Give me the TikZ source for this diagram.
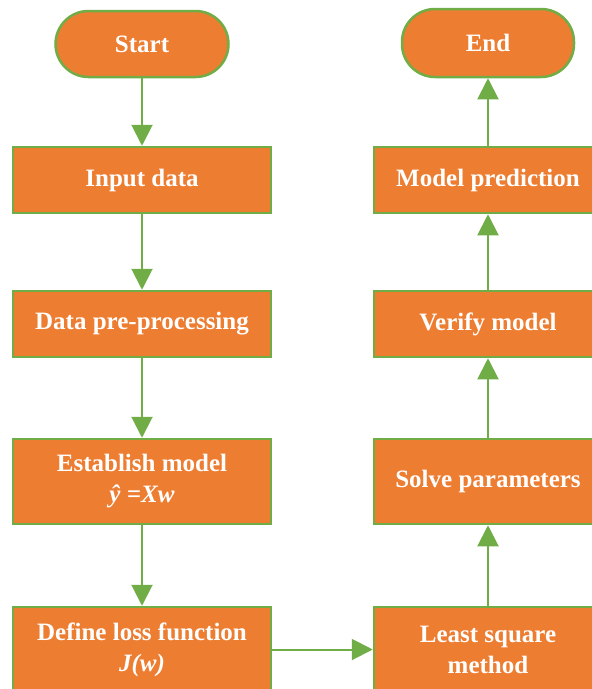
\documentclass[tikz,border=0pt]{standalone}
\usepackage{fontspec}
\setmainfont{Liberation Serif}
\usetikzlibrary{arrows.meta}
\definecolor{boxfill}{HTML}{ED7D31}
\definecolor{boxline}{HTML}{70AD47}
\tikzset{
  stepbox/.style={draw=boxline, line width=2.5pt, fill=boxfill, text=white,
    inner sep=0pt, align=center, font=\fontsize{25}{31}\selectfont\bfseries},
  termbox/.style={stepbox, rounded corners=33pt},
  flow/.style={draw=boxline, line width=2pt,
    -{Triangle[length=21pt,width=21pt]}}
}
\begin{document}
\begin{tikzpicture}[x=1pt,y=-1pt]
  \useasboundingbox (0,0) rectangle (592,689);
  \clip (0,0) rectangle (592,689);
  % left column
  \node[termbox, minimum width=173pt, minimum height=66pt] (start) at (142,44) {Start};
  \node[stepbox, minimum width=258pt, minimum height=66pt] (input) at (142,180) {Input data};
  \node[stepbox, minimum width=258pt, minimum height=66pt] (prep) at (142,324) {Data pre-processing};
  \node[stepbox, minimum width=258pt, minimum height=85pt] (model) at (142,481.5) {Establish model\\\textit{ŷ =Xw}};
  \node[stepbox, minimum width=258pt, minimum height=85pt] (loss) at (142,649.5) {Define loss function\\\textit{J(w)}};
  % right column
  \node[stepbox, minimum width=228pt, minimum height=85pt] (lsq) at (488,649.5) {Least square\\method};
  \node[stepbox, minimum width=228pt, minimum height=85pt] (solve) at (488,481.5) {Solve parameters};
  \node[stepbox, minimum width=228pt, minimum height=66pt] (verify) at (488,324) {Verify model};
  \node[stepbox, minimum width=228pt, minimum height=66pt] (pred) at (488,180) {Model prediction};
  \node[termbox, minimum width=172pt, minimum height=68pt] (end) at (488,43) {End};
  % connectors
  \draw[flow] (start) -- (input);
  \draw[flow] (input) -- (prep);
  \draw[flow] (prep) -- (model);
  \draw[flow] (model) -- (loss);
  \draw[flow] (loss) -- (lsq);
  \draw[flow] (lsq) -- (solve);
  \draw[flow] (solve) -- (verify);
  \draw[flow] (verify) -- (pred);
  \draw[flow] (pred) -- (end);
\end{tikzpicture}
\end{document}
